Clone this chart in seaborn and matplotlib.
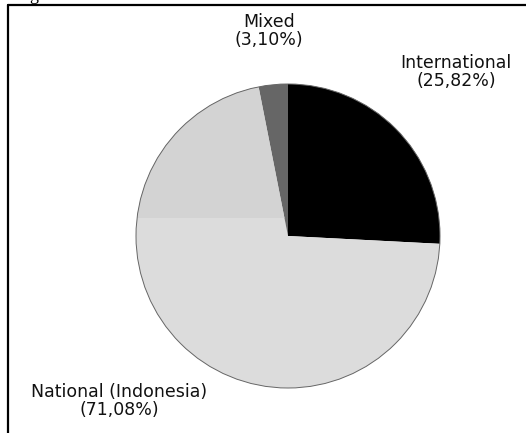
import matplotlib
matplotlib.use("Agg")
import matplotlib.pyplot as plt
from matplotlib.patches import Rectangle, Circle
from matplotlib.lines import Line2D
import seaborn as sns

# Share of partnerships by origin
categories = ["International", "National (Indonesia)", "Mixed"]
shares = [25.82, 71.08, 3.10]
colors = ["#000000", "#dcdcdc", "#666666"]

sns.set_theme(style="white")
plt.rcParams["font.family"] = ["DejaVu Sans"]

W, H = 526, 433
fig = plt.figure(figsize=(W / 100, H / 100), dpi=100)
ax = fig.add_axes([0, 0, 1, 1])

cx, cy, r = 288, H - 236, 152
wedges, _ = ax.pie(shares, colors=colors, startangle=90, counterclock=False,
                   center=(cx, cy), radius=r, frame=True,
                   wedgeprops=dict(linewidth=0, edgecolor="none"))
ax.set_xlim(0, W)
ax.set_ylim(0, H)
ax.set_aspect("equal")
ax.axis("off")

# slightly darker band on the upper part of the large slice
band = Rectangle((0, cy + 18), W, H, facecolor="#d3d3d3", edgecolor="none", zorder=2)
ax.add_patch(band)
band.set_clip_path(wedges[1])

# thin outline around the pie
ax.add_patch(Circle((cx, cy), r, facecolor="none", edgecolor="#666666", linewidth=0.7, zorder=3))

def label(name, pct):
    return f"{name}\n({pct:.2f}%)".replace(".", ",")

label_pos = [(456, H - 72), (119, H - 401), (269, H - 31)]
for name, pct, (x, y) in zip(categories, shares, label_pos):
    ax.text(x, y, label(name, pct), ha="center", va="center", fontsize=12.5,
            linespacing=0.95, color="#111111")

# frame lines
fig.add_artist(Line2D([8 / W, 8 / W], [0, 1 - 5 / H], transform=fig.transFigure,
                      color="black", linewidth=1.6))
fig.add_artist(Line2D([8 / W, 1], [1 - 5 / H, 1 - 5 / H], transform=fig.transFigure,
                      color="black", linewidth=1.6))
fig.text(34 / W, 1 + 0.5 / H, "g", family="Liberation Serif", fontsize=13,
         ha="center", va="baseline", color="black")

fig.savefig("out.png", dpi=100)
